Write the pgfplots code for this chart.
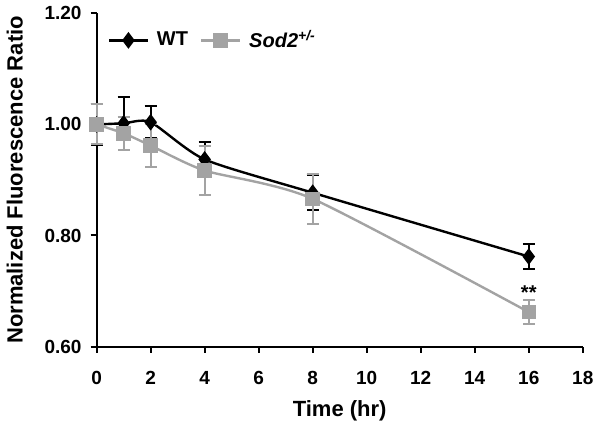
\documentclass[border=0pt]{standalone}
\usepackage{pgfplots}
\pgfplotsset{compat=1.18}
\usepackage{fontspec}
\setmainfont{Liberation Sans}
\definecolor{sodgray}{RGB}{163,163,163}
\begin{document}
\begin{tikzpicture}
\begin{axis}[
  scale only axis,
  width=243pt, height=166.5pt,
  xmin=0, xmax=18, ymin=0.6, ymax=1.2,
  xtick={0,2,...,18},
  ytick={0.6,0.8,1.0,1.2},
  yticklabel style={xshift=-1pt, /pgf/number format/.cd,fixed,fixed zerofill,precision=2},
  /pgf/number format/assume math mode=true,
  ticklabel style={font=\fontsize{9.5}{11}\selectfont\bfseries},
  xticklabel style={yshift=-6pt},
  axis x line=bottom, axis y line=left,
  axis line style={line width=1pt, -},
  tick style={line width=1pt, black},
  tick align=outside,
  major tick length=3pt,
  xlabel={\textbf{Time (hr)}},
  ylabel={\textbf{Normalized Fluorescence Ratio}},
  label style={font=\fontsize{11}{13}\selectfont},
  xlabel style={yshift=-1pt},
  ylabel style={yshift=4pt},
  legend style={draw=none, fill=none, at={(0.01,0.919)}, anchor=west,
    font=\fontsize{10}{12}\selectfont, column sep=2pt,
    /tikz/every even column/.append style={column sep=4pt}},
  legend columns=2,
  legend cell align=left,
  legend image code/.code={%
    \draw[mark repeat=2,mark phase=2] plot coordinates {(0cm,0cm)(0.34cm,0cm)(0.68cm,0cm)};},
  clip=false,
]
\addplot[black, line width=1.2pt, smooth, tension=0.4,
  mark=diamond*, mark size=3.2pt, mark options={solid, fill=black},
  error bars/.cd, y dir=both, y explicit,
  error bar style={line width=1pt, black}, error mark options={rotate=90, mark size=3pt, line width=1pt, black}]
  table[x=x, y=y, y error=e] {
  x y e
  0 1.000 0.037
  1 1.002 0.048
  2 1.004 0.029
  4 0.937 0.032
  8 0.877 0.032
  16 0.762 0.022
};
\addlegendentry{\textbf{WT}}
\addplot[sodgray, line width=1.2pt, smooth, tension=0.4,
  mark=square*, mark size=3pt, mark options={solid, fill=sodgray, draw=sodgray},
  error bars/.cd, y dir=both, y explicit,
  error bar style={line width=1pt, sodgray}, error mark options={rotate=90, mark size=3pt, line width=1pt, sodgray}]
  table[x=x, y=y, y error=e] {
  x y e
  0 1.000 0.036
  1 0.984 0.030
  2 0.962 0.038
  4 0.917 0.045
  8 0.866 0.045
  16 0.662 0.021
};
\addlegendentry{\textbf{\textit{Sod2}}\textsuperscript{\textbf{\textit{+/-}}}}
\node[font=\fontsize{10}{12}\selectfont\bfseries] at (axis cs:16,0.697) {**};
\end{axis}
\end{tikzpicture}
\end{document}
